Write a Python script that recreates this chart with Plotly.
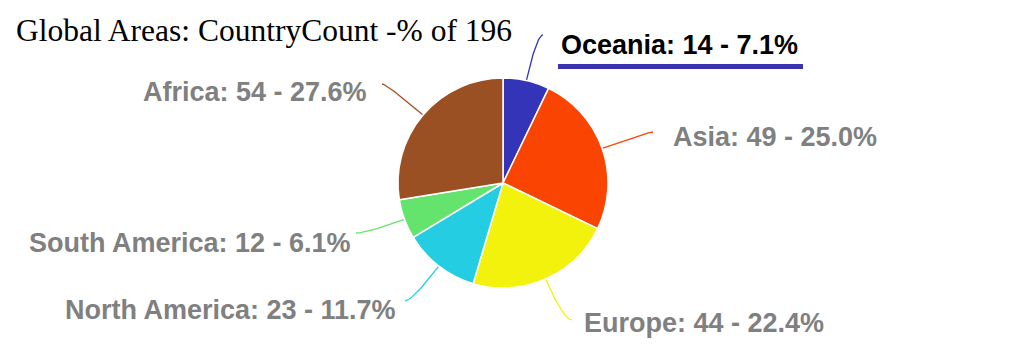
import math
import plotly.graph_objects as go

# ---- data ----
regions = ["Oceania", "Asia", "Europe", "North America", "South America", "Africa"]
counts = [14, 49, 44, 23, 12, 54]
colors = ["#3434b8", "#fa4402", "#f2f20c", "#25cde3", "#64e46c", "#9b5023"]
title_text = "Global Areas: CountryCount -% of 196"
highlighted = "Oceania"

# ---- layout constants (pixels) ----
W, H = 1021, 351
cx, cy, R = 503, 183, 105
# text anchor x, text y (centre), xanchor, connector end x, connector end y
label_layout = {
    "Oceania": (559, 45, "left", 543, 35),
    "Asia": (671, 137, "left", 653, 132),
    "Europe": (582, 323, "left", 572, 320),
    "North America": (398, 310, "right", 405, 301),
    "South America": (353, 243, "right", 356, 233),
    "Africa": (369, 92, "right", 382, 84),
}

total = sum(counts)
fig = go.Figure()

fig.add_trace(go.Pie(
    labels=regions, values=counts, sort=False, direction="clockwise", rotation=0,
    marker=dict(colors=colors, line=dict(color="white", width=1.5)),
    textinfo="none", hoverinfo="label+value+percent", showlegend=False,
    domain=dict(x=[(cx - R) / W, (cx + R) / W], y=[(H - cy - R) / H, (H - cy + R) / H]),
))

annotations = []
cum = 0
for name, val, col in zip(regions, counts, colors):
    mid = (cum + val / 2) / total * 2 * math.pi
    cum += val
    dx, dy = math.sin(mid), -math.cos(mid)
    sx, sy = cx + R * dx, cy + R * dy
    tx, ty, xa, ex, ey = label_layout[name]
    t = (ey - sy) / dy if abs(dy) > 1e-6 else 40
    ctx, cty = sx + t * dx, ey
    xs, ys = [], []
    n = 30
    for i in range(n + 1):
        u = i / n
        xs.append((1 - u) ** 2 * sx + 2 * (1 - u) * u * ctx + u ** 2 * ex)
        ys.append((1 - u) ** 2 * sy + 2 * (1 - u) * u * cty + u ** 2 * ey)
    fig.add_trace(go.Scatter(x=xs, y=ys, mode="lines", line=dict(color=col, width=1.3),
                             hoverinfo="skip", showlegend=False))
    pct = val / total * 100
    is_hl = name == highlighted
    annotations.append(dict(
        x=tx, y=ty, xref="x", yref="y", xanchor=xa, yanchor="middle",
        text=f"<b>{name}: {val} - {pct:.1f}%</b>", showarrow=False,
        font=dict(family="Liberation Sans, Arial, sans-serif", size=27,
                  color="#000000" if is_hl else "#808080"),
    ))

annotations.append(dict(
    x=14, y=30, xref="x", yref="y", xanchor="left", yanchor="middle",
    text=title_text, showarrow=False,
    font=dict(family="Liberation Serif, Times New Roman, serif", size=31.5, color="#000000"),
))

fig.update_layout(
    width=W, height=H, margin=dict(l=0, r=0, t=0, b=0),
    paper_bgcolor="white", plot_bgcolor="white",
    xaxis=dict(range=[0, W], visible=False, fixedrange=True),
    yaxis=dict(range=[H, 0], visible=False, fixedrange=True),
    annotations=annotations,
    shapes=[dict(type="rect", xref="x", yref="y", x0=558, x1=803, y0=64, y1=69,
                 fillcolor="#3a32b0", line=dict(width=0))],
)

fig.write_html("out.html")
